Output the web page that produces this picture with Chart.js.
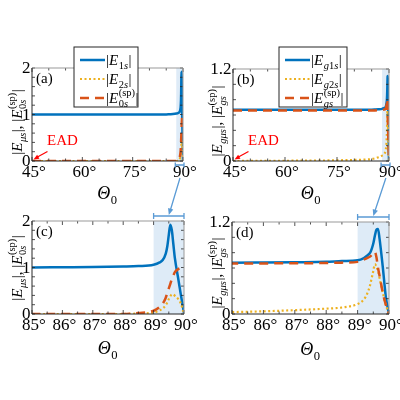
<!DOCTYPE html>
<html>
<head>
<meta charset="utf-8">
<script src="https://cdn.jsdelivr.net/npm/chart.js@4.4.0/dist/chart.umd.min.js"></script>
<style>
html, body { margin: 0; padding: 0; background: #fff; width: 400px; height: 400px; overflow: hidden; }
canvas { position: absolute; }
</style>
</head>
<body>
<canvas id="ca" width="200" height="210" style="left:0;top:0"></canvas>
<canvas id="cb" width="200" height="210" style="left:200px;top:0"></canvas>
<canvas id="cc" width="200" height="235" style="left:0;top:165px"></canvas>
<canvas id="cd" width="200" height="235" style="left:200px;top:165px"></canvas>
<script>
// incidence angle (deg)
var theta = [45, 50, 55, 60, 65, 70, 75, 80, 83, 85, 86, 87, 88, 88.5, 89, 89.2, 89.3, 89.4, 89.45, 89.5, 89.55, 89.6, 89.65, 89.7, 89.8, 89.9, 90];
// panels (a),(c)
var E1s  = [1, 1, 1, 1, 1, 1, 1, 1, 1, 1, 1.005, 1.01, 1.02, 1.03, 1.06, 1.11, 1.16, 1.3, 1.45, 1.7, 1.92, 1.8, 1.5, 1.2, 0.8, 0.4, 0.02];
var E2s  = [0, 0, 0, 0, 0, 0, 0, 0, 0, 0, 0, 0, 0, 0.01, 0.03, 0.08, 0.12, 0.19, 0.25, 0.32, 0.38, 0.42, 0.42, 0.39, 0.33, 0.22, 0];
var E0sp = [0, 0, 0, 0, 0, 0, 0, 0, 0, 0, 0, 0, 0, 0.02, 0.07, 0.15, 0.22, 0.35, 0.45, 0.55, 0.65, 0.75, 0.83, 0.9, 0.96, 0.99, 1.0];
// panels (b),(d)
var Eg1s = [0.67, 0.67, 0.67, 0.67, 0.67, 0.67, 0.67, 0.67, 0.67, 0.67, 0.672, 0.675, 0.68, 0.69, 0.7, 0.73, 0.76, 0.8, 0.85, 0.92, 1.02, 1.1, 1.11, 0.98, 0.62, 0.22, 0];
var Eg2s = [0, 0.001, 0.002, 0.003, 0.005, 0.006, 0.009, 0.014, 0.018, 0.025, 0.035, 0.05, 0.07, 0.085, 0.13, 0.19, 0.26, 0.38, 0.47, 0.56, 0.65, 0.62, 0.56, 0.47, 0.28, 0.12, 0];
var Egsp = [0.66, 0.66, 0.66, 0.66, 0.66, 0.66, 0.66, 0.66, 0.66, 0.66, 0.66, 0.662, 0.665, 0.67, 0.68, 0.71, 0.73, 0.75, 0.77, 0.8, 0.81, 0.74, 0.6, 0.5, 0.28, 0.12, 0];

var wideTicks = [45, 60, 75, 90];
var zoomTicks = [85, 86, 87, 88, 89, 90];

var BLUE = '#0072BD', ORANGE = '#D95319', YELLOW = '#EDB120', LINK = '#5B9BD5';
var SERIF = '"Liberation Serif", "Times New Roman", serif';

function fnt(it, s) { return (it ? 'italic ' : '') + s + 'px ' + SERIF; }

// draw a string char by char: letters italic, digits/punctuation upright
function mixed(ctx, str, x, y, size, draw) {
  var w = 0;
  for (var k = 0; k < str.length; k++) {
    var ch = str[k], it = /[a-zμ]/i.test(ch) && str[0] !== '(';
    ctx.font = fnt(it, size);
    if (draw) ctx.fillText(ch, x + w, y);
    w += ctx.measureText(ch).width;
  }
  return w;
}

// text with sub/superscripts
function rich(ctx, parts, x, y, size, align) {
  var ss = size * 0.7, widths = [], w = 0;
  parts.forEach(function (p) {
    var pw;
    if (p.sub !== undefined || p.sup !== undefined) {
      var a = p.sub ? mixed(ctx, p.sub, 0, 0, ss, false) : 0;
      var b = p.sup ? mixed(ctx, p.sup, 0, 0, ss, false) : 0;
      pw = Math.max(a, b) + 0.5;
    } else { ctx.font = fnt(p.i, size); pw = ctx.measureText(p.t).width + (p.i ? 0.5 : 0); }
    widths.push(pw); w += pw;
  });
  var cx = align === 'center' ? x - w / 2 : x;
  ctx.textAlign = 'left'; ctx.textBaseline = 'alphabetic';
  parts.forEach(function (p, k) {
    if (p.sub !== undefined || p.sup !== undefined) {
      if (p.sub) mixed(ctx, p.sub, cx, y + size * 0.28, ss, true);
      if (p.sup) mixed(ctx, p.sup, cx, y - size * 0.5, ss, true);
    } else { ctx.font = fnt(p.i, size); ctx.fillText(p.t, cx, y); }
    cx += widths[k];
  });
  return w;
}

function bar() { return { t: '|' }; }
function E() { return { t: 'E', i: true }; }
var thetaLabel = [{ t: 'Θ', i: true }, { sub: '0' }];
var yTitleA = [bar(), E(), { sub: 'μs' }, { t: '|, |' }, E(), { sub: '0s', sup: '(sp)' }, bar()];
var yTitleB = [bar(), E(), { sub: 'gμs' }, { t: '|, |' }, E(), { sub: 'gs', sup: '(sp)' }, bar()];
var legA = [[bar(), E(), { sub: '1s' }, bar()], [bar(), E(), { sub: '2s' }, bar()], [bar(), E(), { sub: '0s', sup: '(sp)' }, bar()]];
var legB = [[bar(), E(), { sub: 'g1s' }, bar()], [bar(), E(), { sub: 'g2s' }, bar()], [bar(), E(), { sub: 'gs', sup: '(sp)' }, bar()]];

var lineStyles = [
  { color: BLUE, width: 2.5, dash: [], order: 3 },
  { color: YELLOW, width: 2.2, dash: [2, 2.5], order: 2 },
  { color: ORANGE, width: 2.5, dash: [9, 6], order: 1 }
];

function pts(arr) { return theta.map(function (t, i) { return { x: t, y: arr[i] }; }); }

function drawArrowHead(ctx, x0, y0, x1, y1, size) {
  var a = Math.atan2(y1 - y0, x1 - x0);
  ctx.beginPath();
  ctx.moveTo(x1, y1);
  ctx.lineTo(x1 - size * Math.cos(a - 0.4), y1 - size * Math.sin(a - 0.4));
  ctx.lineTo(x1 - size * Math.cos(a + 0.4), y1 - size * Math.sin(a + 0.4));
  ctx.closePath(); ctx.fill();
}

var charts = {};

function makePanel(p) {
  var deco = {
    id: 'deco',
    beforeDatasetsDraw: function (chart) {
      var ctx = chart.ctx, a = chart.chartArea, x = chart.scales.x;
      ctx.save();
      ctx.fillStyle = '#DEEBF7';
      var s0 = x.getPixelForValue(p.shade[0]), s1 = x.getPixelForValue(p.shade[1]);
      ctx.fillRect(s0, a.top, s1 - s0, a.bottom - a.top);
      ctx.restore();
    },
    afterDraw: function (chart) {
      var ctx = chart.ctx, a = chart.chartArea, x = chart.scales.x, y = chart.scales.y, v;
      ctx.save();
      // ticks inside, all four sides
      ctx.strokeStyle = '#262626'; ctx.lineWidth = 0.8;
      ctx.beginPath();
      for (v = p.xMin; v <= p.xMax + 1e-9; v += p.xMinor) {
        var px = x.getPixelForValue(v), major = p.xTicks.indexOf(Math.round(v * 100) / 100) >= 0, L = major ? 4 : 2.5;
        ctx.moveTo(px, a.bottom); ctx.lineTo(px, a.bottom - L);
        ctx.moveTo(px, a.top); ctx.lineTo(px, a.top + L);
      }
      for (v = 0; v <= p.yMax + 1e-9; v += p.yMinor) {
        var py = y.getPixelForValue(v);
        ctx.moveTo(a.left, py); ctx.lineTo(a.left + 3, py);
        ctx.moveTo(a.right, py); ctx.lineTo(a.right - 3, py);
      }
      ctx.stroke();
      // frame
      ctx.lineWidth = 1;
      ctx.strokeStyle = '#999';
      ctx.beginPath(); ctx.moveTo(a.left, a.top); ctx.lineTo(a.right, a.top); ctx.lineTo(a.right, a.bottom); ctx.stroke();
      ctx.strokeStyle = '#262626';
      ctx.beginPath(); ctx.moveTo(a.left, a.top); ctx.lineTo(a.left, a.bottom); ctx.lineTo(a.right, a.bottom); ctx.stroke();
      // tick labels
      ctx.fillStyle = '#000'; ctx.font = '17px ' + SERIF;
      ctx.textAlign = 'center'; ctx.textBaseline = 'top';
      p.xTicks.forEach(function (t) { ctx.fillText(t + '°', x.getPixelForValue(t) + 2, a.bottom + 3); });
      ctx.textAlign = 'right'; ctx.textBaseline = 'middle';
      p.yTicks.forEach(function (t) { ctx.fillText(String(t), a.left - 1.5, y.getPixelForValue(t) + 1); });
      // panel tag
      ctx.font = '15px ' + SERIF; ctx.textAlign = 'left'; ctx.textBaseline = 'middle';
      ctx.fillText(p.tag, a.left + 4, a.top + 11);
      // axis titles
      rich(ctx, thetaLabel, (a.left + a.right) / 2, p.xTitleY, 18, 'center');
      ctx.save();
      ctx.translate(22, p.yTitleC); ctx.rotate(-Math.PI / 2);
      rich(ctx, p.yTitle, 0, 0, 15, 'center');
      ctx.restore();
      // legend box
      if (p.legend) {
        var L0 = p.legend;
        ctx.fillStyle = '#fff'; ctx.fillRect(L0.x, L0.y, L0.w, L0.h);
        ctx.strokeStyle = '#262626'; ctx.lineWidth = 1; ctx.strokeRect(L0.x, L0.y, L0.w, L0.h);
        p.legendParts.forEach(function (parts, i) {
          var ly = L0.y + 13 + i * 19, st = lineStyles[i];
          ctx.strokeStyle = st.color; ctx.lineWidth = st.width; ctx.setLineDash(st.dash);
          ctx.beginPath(); ctx.moveTo(L0.x + 6, ly); ctx.lineTo(L0.x + 31, ly); ctx.stroke();
          ctx.setLineDash([]);
          ctx.fillStyle = '#000';
          rich(ctx, parts, L0.x + 32, ly + 5, 15, 'left');
        });
      }
      // EAD marker
      if (p.ead) {
        var tx = x.getPixelForValue(45) + 1.5, ty = y.getPixelForValue(0) - 1.5;
        ctx.strokeStyle = '#FF0000'; ctx.fillStyle = '#FF0000'; ctx.lineWidth = 1.2;
        ctx.beginPath(); ctx.moveTo(tx + 14, ty - 8); ctx.lineTo(tx + 3, ty - 2); ctx.stroke();
        drawArrowHead(ctx, tx + 14, ty - 8, tx, ty, 6);
        ctx.font = '15px ' + SERIF; ctx.textAlign = 'center'; ctx.textBaseline = 'middle';
        ctx.fillText('EAD', tx + 29, ty - 18);
      }
      // small bracket under the wide panel
      if (p.wide) {
        var b0 = x.getPixelForValue(p.shade[0]) - 1, b1 = x.getPixelForValue(p.shade[1]) + 1, by = a.bottom + 4;
        ctx.strokeStyle = LINK; ctx.lineWidth = 1.3;
        ctx.beginPath();
        ctx.moveTo(b0, by); ctx.lineTo(b1, by);
        ctx.moveTo(b0, by - 2.5); ctx.lineTo(b0, by + 2.5);
        ctx.moveTo(b1, by - 2.5); ctx.lineTo(b1, by + 2.5);
        ctx.stroke();
      }
      // big bracket and arrow above the zoom panel
      if (p.from) {
        var top = charts[p.from], tx0 = top.scales.x.getPixelForValue(89.1);
        var c0 = x.getPixelForValue(89), c1 = x.getPixelForValue(90), cy = a.top - 5, cm = (c0 + c1) / 2;
        ctx.strokeStyle = LINK; ctx.fillStyle = LINK; ctx.lineWidth = 1.3;
        ctx.beginPath();
        ctx.moveTo(c0, cy); ctx.lineTo(c1, cy);
        ctx.moveTo(c0, cy - 3); ctx.lineTo(c0, cy + 3);
        ctx.moveTo(c1, cy - 3); ctx.lineTo(c1, cy + 3);
        ctx.moveTo(tx0, 13); ctx.lineTo(cm + 1, cy - 4);
        ctx.stroke();
        drawArrowHead(ctx, tx0, 13, cm, cy - 1, 7);
      }
      ctx.restore();
    }
  };

  var chart = new Chart(document.getElementById(p.canvas), {
    type: 'line',
    data: {
      datasets: p.series.map(function (arr, i) {
        var st = lineStyles[i];
        return {
          data: pts(arr), borderColor: st.color, borderWidth: st.width, borderDash: st.dash,
          order: st.order, pointRadius: 0, fill: false, cubicInterpolationMode: 'monotone'
        };
      })
    },
    options: {
      responsive: false, animation: false, events: [],
      layout: { padding: p.pad },
      plugins: { legend: { display: false }, tooltip: { enabled: false } },
      scales: {
        x: {
          type: 'linear', min: p.xMin, max: p.xMax,
          afterFit: function (s) { s.height = 25; s.paddingLeft = 0; s.paddingRight = 0; },
          grid: { display: false }, border: { display: false }, ticks: { display: false }
        },
        y: {
          min: 0, max: p.yMax,
          afterFit: function (s) { s.width = 32; s.paddingTop = 0; s.paddingBottom = 0; },
          grid: { display: false }, border: { display: false }, ticks: { display: false }
        }
      }
    },
    plugins: [deco]
  });
  charts[p.canvas] = chart;
}

function build() {
  makePanel({ canvas: 'ca', tag: '(a)', series: [E1s, E2s, E0sp], xMin: 45, xMax: 90, xTicks: wideTicks, xMinor: 5,
    yMax: 2, yTicks: [0, 1, 2], yMinor: 0.2, shade: [88, 90], wide: true, ead: true,
    pad: { left: 0, top: 68, right: 17, bottom: 24 }, xTitleY: 199, yTitle: yTitleA, yTitleC: 122,
    legend: { x: 74, y: 47, w: 64, h: 60 }, legendParts: legA });
  makePanel({ canvas: 'cb', tag: '(b)', series: [Eg1s, Eg2s, Egsp], xMin: 45, xMax: 90, xTicks: wideTicks, xMinor: 5,
    yMax: 1.2, yTicks: [0, 1.2], yMinor: 0.2, shade: [88, 90], wide: true, ead: true,
    pad: { left: 1, top: 69, right: 11, bottom: 24 }, xTitleY: 199, yTitle: yTitleB, yTitleC: 121,
    legend: { x: 79, y: 47, w: 68, h: 60 }, legendParts: legB });
  makePanel({ canvas: 'cc', tag: '(c)', series: [E1s, E2s, E0sp], xMin: 85, xMax: 90, xTicks: zoomTicks, xMinor: 0.5,
    yMax: 2, yTicks: [0, 1, 2], yMinor: 0.2, shade: [89, 90], from: 'ca',
    pad: { left: 0, top: 56, right: 16, bottom: 61 }, xTitleY: 189, yTitle: yTitleA, yTitleC: 103 });
  makePanel({ canvas: 'cd', tag: '(d)', series: [Eg1s, Eg2s, Egsp], xMin: 85, xMax: 90, xTicks: zoomTicks, xMinor: 0.5,
    yMax: 1.2, yTicks: [0, 1.2], yMinor: 0.2, shade: [89, 90], from: 'cb',
    pad: { left: 0, top: 57, right: 11, bottom: 61 }, xTitleY: 190, yTitle: yTitleB, yTitleC: 108 });
}

if (document.fonts && document.fonts.load) {
  Promise.all([
    document.fonts.load('17px "Liberation Serif"'),
    document.fonts.load('italic 17px "Liberation Serif"')
  ]).then(build, build);
} else {
  build();
}
</script>
</body>
</html>
